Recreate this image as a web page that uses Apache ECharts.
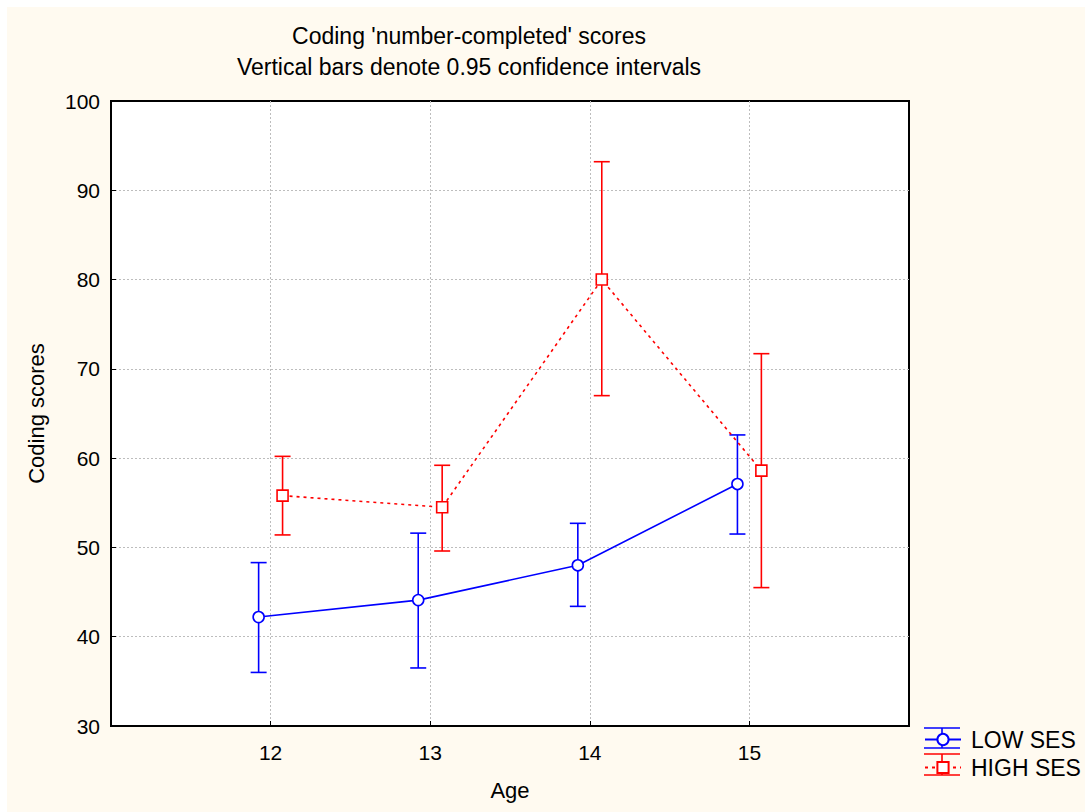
<!DOCTYPE html>
<html>
<head>
<meta charset="utf-8">
<script src="https://cdn.jsdelivr.net/npm/echarts@6/dist/echarts.min.js"></script>
<style>
html,body{margin:0;padding:0;background:#fff;}
#c{width:1085px;height:812px;}
</style>
</head>
<body>
<div id="c"></div>
<script>
// ---- data ----
var ages = [12, 13, 14, 15];
var xTickLabels = ['12', '13', '14', '15'];
var lowMean  = [42.2, 44.1, 48.0, 57.1];
var lowLower = [36.0, 36.5, 43.4, 51.5];
var lowUpper = [48.3, 51.6, 52.7, 62.6];
var highMean  = [55.8, 54.5, 80.0, 58.6];
var highLower = [51.4, 49.6, 67.0, 45.5];
var highUpper = [60.2, 59.2, 93.2, 71.7];
var seriesNames = ['LOW SES', 'HIGH SES'];

var BLUE = '#0000ff', RED = '#ff0000';
var DODGE = 0.075; // horizontal offset of the two groups (axis units)
var FONT = '"Liberation Sans", Arial, sans-serif';

function pts(mean, off) {
  return ages.map(function (a, i) { return [a + off, mean[i]]; });
}
function bars(lo, hi, off) {
  return ages.map(function (a, i) { return [a + off, lo[i], hi[i]]; });
}
function errRender(color) {
  return function (params, api) {
    var x = api.value(0);
    var p1 = api.coord([x, api.value(1)]);
    var p2 = api.coord([x, api.value(2)]);
    var hw = 8;
    var st = { stroke: color, lineWidth: 1.6 };
    return {
      type: 'group',
      children: [
        { type: 'line', shape: { x1: p1[0], y1: p1[1], x2: p2[0], y2: p2[1] }, style: st },
        { type: 'line', shape: { x1: p1[0] - hw, y1: p1[1], x2: p1[0] + hw, y2: p1[1] }, style: st },
        { type: 'line', shape: { x1: p2[0] - hw, y1: p2[1], x2: p2[0] + hw, y2: p2[1] }, style: st }
      ]
    };
  };
}

var chart = echarts.init(document.getElementById('c'), null, { renderer: 'svg' });

function legendCaps(color, yTop, yBot) {
  var st = { stroke: color, lineWidth: 1.6 };
  return [
    { type: 'line', shape: { x1: 924, y1: yTop, x2: 960, y2: yTop }, style: st, z: 1 },
    { type: 'line', shape: { x1: 924, y1: yBot, x2: 960, y2: yBot }, style: st, z: 1 },
    { type: 'line', shape: { x1: 942, y1: yTop, x2: 942, y2: yBot }, style: st, z: 1 }
  ];
}

var option = {
  backgroundColor: '#fffaf0',
  animation: false,
  textStyle: { fontFamily: FONT, color: '#000' },
  title: {
    text: "Coding 'number-completed' scores\nVertical bars denote 0.95 confidence intervals",
    left: 464,
    textAlign: 'center',
    top: 15,
    textStyle: { fontFamily: FONT, fontSize: 23, fontWeight: 'normal', color: '#000', lineHeight: 31 }
  },
  graphic: [
    { type: 'rect', shape: { x: 0, y: 0, width: 1085, height: 7 }, style: { fill: '#fff' }, z: -10 },
    { type: 'rect', shape: { x: 0, y: 0, width: 7, height: 812 }, style: { fill: '#fff' }, z: -10 }
  ].concat(legendCaps(BLUE, 728, 748)).concat(legendCaps(RED, 754, 775)),
  legend: {
    orient: 'vertical',
    left: 924,
    top: 728,
    itemWidth: 36,
    itemHeight: 14,
    itemGap: 5,
    padding: 0,
    data: seriesNames,
    textStyle: { fontFamily: FONT, fontSize: 23, color: '#000', lineHeight: 22, padding: [0, 0, 0, 5] }
  },
  grid: {
    left: 111, top: 101, width: 798, height: 625,
    show: true, backgroundColor: '#fff', borderColor: '#000', borderWidth: 2
  },
  xAxis: {
    type: 'value', min: 11, max: 16, interval: 1,
    name: 'Age', nameLocation: 'middle', nameGap: 53,
    nameTextStyle: { fontFamily: FONT, fontSize: 22, color: '#000' },
    axisLine: { lineStyle: { color: '#000', width: 2 } },
    axisTick: { inside: true, length: 5, lineStyle: { color: '#000' } },
    axisLabel: {
      showMinLabel: false, showMaxLabel: false, margin: 16,
      fontFamily: FONT, fontSize: 21, color: '#000',
      formatter: function (v) { var i = ages.indexOf(v); return i >= 0 ? xTickLabels[i] : ''; }
    },
    splitLine: { show: true, showMinLine: false, showMaxLine: false, lineStyle: { color: '#bdbdbd', width: 1, type: [2, 2] } }
  },
  yAxis: {
    type: 'value', min: 30, max: 100, interval: 10,
    name: 'Coding scores', nameLocation: 'middle', nameGap: 64, nameRotate: 90,
    nameTextStyle: { fontFamily: FONT, fontSize: 22, color: '#000' },
    axisLine: { show: true, lineStyle: { color: '#000', width: 2 } },
    axisTick: { show: true, inside: true, length: 5, lineStyle: { color: '#000' } },
    axisLabel: { margin: 11, fontFamily: FONT, fontSize: 21, color: '#000' },
    splitLine: { show: true, showMinLine: false, showMaxLine: false, lineStyle: { color: '#bdbdbd', width: 1, type: [2, 2] } }
  },
  series: [
    {
      name: 'LOW SES CI', type: 'custom', renderItem: errRender(BLUE),
      data: bars(lowLower, lowUpper, -DODGE), encode: { x: 0, y: [1, 2] }, z: 2
    },
    {
      name: 'HIGH SES CI', type: 'custom', renderItem: errRender(RED),
      data: bars(highLower, highUpper, DODGE), encode: { x: 0, y: [1, 2] }, z: 2
    },
    {
      name: seriesNames[0], type: 'line', data: pts(lowMean, -DODGE),
      symbol: 'circle', symbolSize: 11, z: 3,
      lineStyle: { color: BLUE, width: 1.6 },
      itemStyle: { color: '#fff', borderColor: BLUE, borderWidth: 1.6 }
    },
    {
      name: seriesNames[1], type: 'line', data: pts(highMean, DODGE),
      symbol: 'rect', symbolSize: 11, z: 4,
      lineStyle: { color: RED, width: 1.6, type: [3, 4] },
      itemStyle: { color: '#fff', borderColor: RED, borderWidth: 1.6 }
    }
  ]
};
chart.setOption(option);
</script>
</body>
</html>
